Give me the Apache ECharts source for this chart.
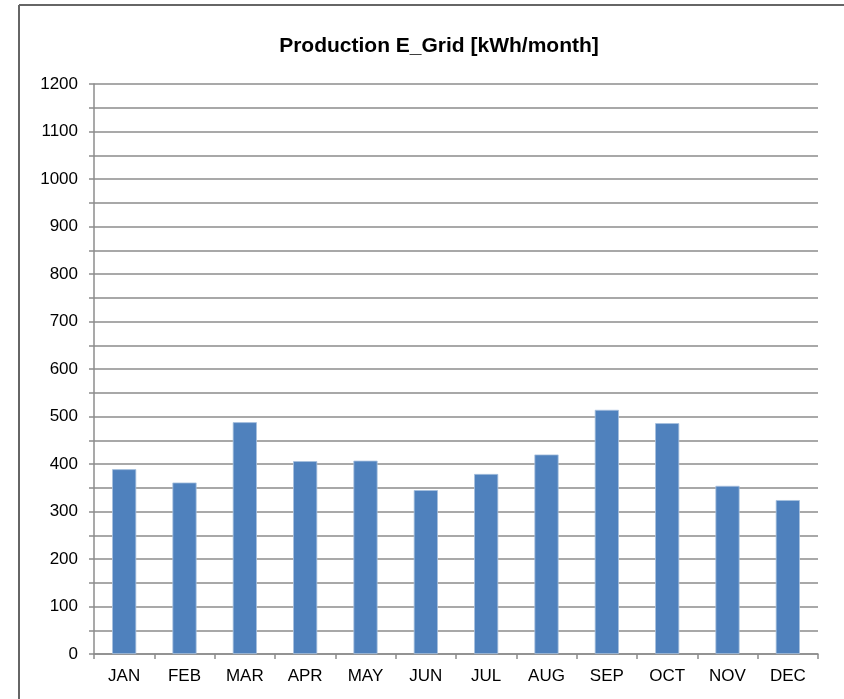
<!DOCTYPE html>
<html>
<head>
<meta charset="utf-8">
<script src="https://cdn.jsdelivr.net/npm/echarts@6/dist/echarts.min.js"></script>
<style>
  html, body { margin: 0; padding: 0; background: #fff; }
  #chart { width: 844px; height: 699px; }
</style>
</head>
<body>
<div id="chart"></div>
<script>
// Monthly grid production in kWh
const months = ['JAN', 'FEB', 'MAR', 'APR', 'MAY', 'JUN', 'JUL', 'AUG', 'SEP', 'OCT', 'NOV', 'DEC'];
const production = [389, 361, 488, 406, 407, 345, 379, 420, 514, 486, 354, 324];
const titleText = 'Production E_Grid [kWh/month]';

const gridColor = '#8c8c8c';
const font = 'Arial, "Liberation Sans", sans-serif';

const chart = echarts.init(document.getElementById('chart'), null, { renderer: 'canvas' });
chart.setOption({
  animation: false,
  backgroundColor: '#fff',
  title: {
    text: titleText,
    left: 434,
    textAlign: 'center',
    top: 31,
    textStyle: { fontFamily: font, fontSize: 21, fontWeight: 'bold', color: '#000' }
  },
  graphic: [
    { type: 'line', shape: { x1: 19, y1: 5, x2: 844, y2: 5 }, style: { stroke: '#666', lineWidth: 2 } },
    { type: 'line', shape: { x1: 19, y1: 5, x2: 19, y2: 699 }, style: { stroke: '#666', lineWidth: 2 } }
  ],
  grid: { left: 94, right: 26, top: 84, bottom: 45, containLabel: false },
  xAxis: {
    type: 'category',
    data: months,
    axisLine: { lineStyle: { color: gridColor, width: 1.5 } },
    axisTick: { show: true, length: 5, alignWithLabel: false, lineStyle: { color: gridColor, width: 1.5 } },
    axisLabel: { color: '#000', fontFamily: font, fontSize: 17, margin: 14 },
    splitLine: { show: false }
  },
  yAxis: {
    type: 'value',
    min: 0,
    max: 1200,
    interval: 100,
    axisLine: { show: true, lineStyle: { color: gridColor, width: 1.5 } },
    axisTick: { show: true, length: 5, lineStyle: { color: gridColor, width: 1.5 } },
    minorTick: { show: true, splitNumber: 2, length: 5, lineStyle: { color: gridColor, width: 1.5 } },
    minorSplitLine: { show: true, lineStyle: { color: gridColor, width: 1.5 } },
    splitLine: { show: true, lineStyle: { color: gridColor, width: 1.5 } },
    axisLabel: { color: '#000', fontFamily: font, fontSize: 17, margin: 16, formatter: (v) => String(v) }
  },
  series: [{
    type: 'bar',
    data: production,
    barWidth: '40%',
    itemStyle: { color: '#4f81bd', borderColor: '#a7c0de', borderWidth: 0.8 }
  }]
});
</script>
</body>
</html>
